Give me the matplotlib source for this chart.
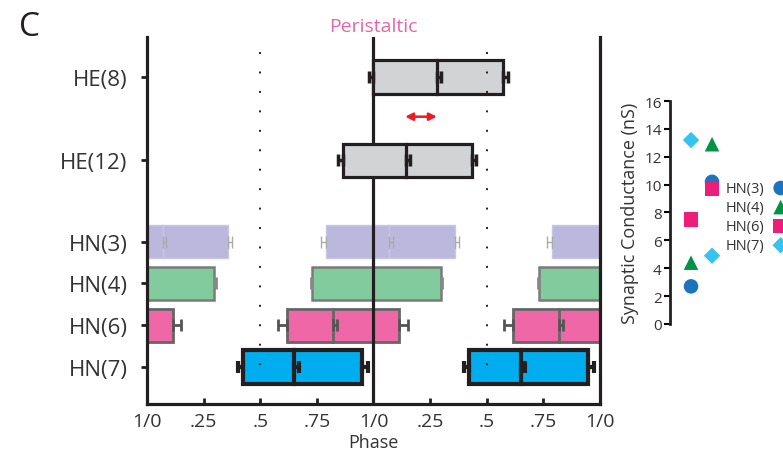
import numpy as np
import matplotlib
matplotlib.use("Agg")
import matplotlib.pyplot as plt

plt.rcParams['font.family'] = ['Open Sans', 'DejaVu Sans']

# phase data (fraction of cycle), start / middle / end of burst
names = ['HE(8)', 'HE(12)', 'HN(3)', 'HN(4)', 'HN(6)', 'HN(7)']
ypos = [7.95, 5.95, 4, 3, 2, 1]
start = [1.0, 0.865, 0.79, 0.73, 0.618, 0.424]
mid = [1.28, 1.144, 1.07, 1.0, 0.82, 0.65]
end = [1.572, 1.435, 1.358, 1.298, 1.113, 0.949]
err_start = [0.02, 0.022, 0.022, 0.005, 0.04, 0.022]
err_mid = [0.02, 0.017, 0.015, 0.0, 0.018, 0.02]
err_end = [0.02, 0.018, 0.018, 0.005, 0.039, 0.026]
copies = [[0], [0], [-1, 0, 1], [-1, 0, 1], [-1, 0, 1], [0, 1]]

fills = ['#d1d3d4', '#d1d3d4', '#bcb8dd', '#82cb9c', '#ef67a6', '#00aeef']
edges = ['#231f20', '#231f20', '#c9c6e3', '#7a7a7a', '#666666', '#231f20']
lws = [2.3, 2.3, 1.0, 1.8, 2.0, 3.0]
ecols = ['#231f20', '#231f20', '#aaaaaa', '#888888', '#555555', '#231f20']
elws = [2.5, 2.5, 1.0, 2.0, 2.0, 3.0]
zs = [4, 4, 2, 2, 2, 2]

tick_pos = [0, 0.25, 0.5, 0.75, 1, 1.25, 1.5, 1.75, 2]
tick_lab = ['1/0', '.25', '.5', '.75', '1/0', '.25', '.5', '.75', '1/0']

arrow_x = (1.14, 1.28)
arrow_y = 7

# synaptic conductances
sc_labels = ['HN(3)', 'HN(4)', 'HN(6)', 'HN(7)']
col1 = [2.7, 4.4, 7.5, 13.2]
col2 = [10.2, 12.9, 9.7, 4.9]
sc_markers = ['o', '^', 's', 'D']
sc_colors = ['#1c75bc', '#009444', '#ec1e79', '#35c3f0']
sc_sizes = [110, 110, 110, 70]

fig = plt.figure(figsize=(7.83, 4.56), dpi=100)
ax = fig.add_axes([0.1877, 0.1118, 0.5785, 0.8048])

h = 0.8
for i in range(len(names)):
    for off in copies[i]:
        s = start[i] + off
        e = end[i] + off
        m = mid[i] + off
        ax.barh(ypos[i], e - s, left=s, height=h, color=fills[i],
                edgecolor=edges[i], linewidth=lws[i], zorder=zs[i])
        ax.plot([m, m], [ypos[i] - h / 2, ypos[i] + h / 2], color=edges[i],
                lw=lws[i], zorder=zs[i] + 0.1)
        for x0, xe, side in [(s, err_start[i], -1), (m, err_mid[i], 1), (e, err_end[i], 1)]:
            xerr = [[xe], [0]] if side < 0 else [[0], [xe]]
            ax.errorbar(x0, ypos[i], xerr=xerr, fmt='none', ecolor=ecols[i],
                        elinewidth=elws[i], capsize=4, capthick=elws[i],
                        zorder=zs[i] + 0.2)

ax.axvline(1.0, color='#231f20', lw=2.3, zorder=3)
for xv in [0.5, 1.5]:
    ax.axvline(xv, color='#231f20', lw=1.4, linestyle=(0, (1, 9)), zorder=6)

ax.annotate('', xy=(arrow_x[1], arrow_y), xytext=(arrow_x[0], arrow_y),
            arrowprops=dict(arrowstyle='<|-|>', color='#ed1c24', lw=1.8,
                            mutation_scale=11, shrinkA=0, shrinkB=0))

ax.set_xlim(0, 2)
ax.set_ylim(0.11, 8.91)
ax.set_xticks(tick_pos)
ax.set_xticklabels(tick_lab)
ax.set_yticks(ypos)
ax.set_yticklabels(names)
ax.tick_params(axis='x', direction='in', length=4, width=2, labelsize=14,
               pad=6, colors='#231f20', labelcolor='#333333')
ax.tick_params(axis='y', direction='out', length=4, width=2, labelsize=16,
               pad=10, colors='#231f20', labelcolor='#333333')
ax.spines['top'].set_visible(False)
for sp in ['left', 'right', 'bottom']:
    ax.spines[sp].set_linewidth(2.3)
    ax.spines[sp].set_color('#231f20')
    ax.spines[sp].set_zorder(7)
ax.set_xlabel('Phase', fontsize=13, color='#333333', labelpad=2)
ax.set_title('Peristaltic', fontsize=14, color='#e667a8', pad=4)

fig.text(0.024, 0.94, 'C', fontsize=24, color='#231f20', va='center')

# conductance panel
ax2 = fig.add_axes([0.8557, 0.2873, 0.0805, 0.489])
for k in range(len(sc_labels)):
    ax2.scatter([1, 2], [col1[k], col2[k]], marker=sc_markers[k], s=sc_sizes[k],
                color=sc_colors[k], edgecolors='none', label=sc_labels[k], zorder=3 + k)
ax2.set_xlim(0, 3)
ax2.set_ylim(0, 16)
ax2.set_yticks(range(0, 17, 2))
ax2.set_xticks([])
for sp in ['top', 'right', 'bottom']:
    ax2.spines[sp].set_visible(False)
ax2.spines['left'].set_linewidth(2)
ax2.spines['left'].set_color('#231f20')
ax2.tick_params(axis='y', direction='out', length=4, width=1.5, labelsize=11,
                pad=2, labelcolor='#333333')
ax2.set_ylabel('Synaptic Conductance (nS)', fontsize=13, color='#333333', labelpad=4)
ax2.patch.set_alpha(0)

leg = ax2.legend(loc='center left', bbox_to_anchor=(0.927, 0.522),
                 bbox_transform=fig.transFigure, markerfirst=False, frameon=False,
                 fontsize=10.5, handlelength=1.0, handletextpad=0.6,
                 labelspacing=0.28, borderaxespad=0, borderpad=0)
for t in leg.get_texts():
    t.set_color('#333333')

fig.savefig('out.png', dpi=100)
